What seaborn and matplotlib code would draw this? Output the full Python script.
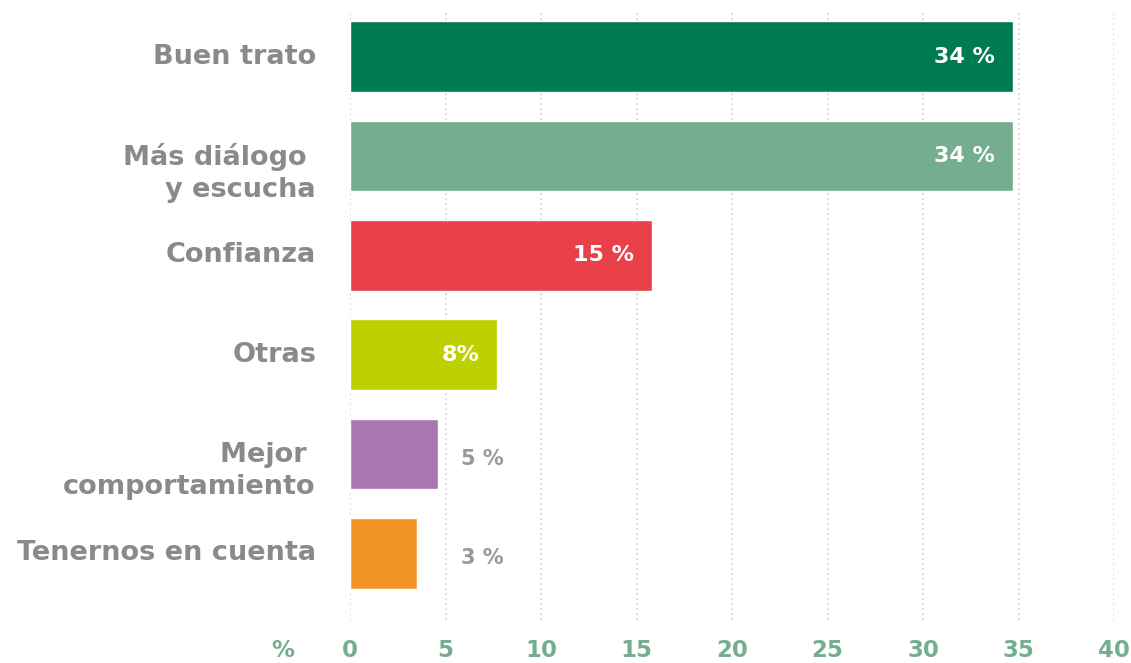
import matplotlib
matplotlib.use("Agg")
import matplotlib.pyplot as plt
import matplotlib.transforms as mtrans
import seaborn as sns
import pandas as pd

categories = ["Buen trato", "Más diálogo \ny escucha", "Confianza", "Otras",
              "Mejor \ncomportamiento", "Tenernos en cuenta"]
values = [34.7, 34.7, 15.8, 7.7, 4.6, 3.5]
value_labels = ["34 %", "34 %", "15 %", "8%", "5 %", "3 %"]
colors = ["#007A53", "#74AD8F", "#E8414A", "#BED000", "#A877B2", "#F39426"]
xticks = [0, 5, 10, 15, 20, 25, 30, 35, 40]

sns.set_theme(style="white")
plt.rcParams['font.family'] = ['DejaVu Sans']

W, H = 1131, 663
fig = plt.figure(figsize=(W / 100, H / 100), dpi=100)
fig.patch.set_facecolor("white")
x0, x40 = 350, 1114
ax = fig.add_axes([x0 / W, 1 - 620 / H, (x40 - x0) / W, 610 / H])

df = pd.DataFrame({"cat": categories, "val": values})
sns.barplot(data=df, y="cat", x="val", hue="cat", palette=colors, legend=False,
            width=0.71, saturation=1, orient="h", ax=ax, zorder=3)

ax.set_xlim(0, 40)
ax.set_ylim(5.67, -0.47)
ax.set_xticks(xticks)
ax.set_xticklabels([str(t) for t in xticks], color="#74AD8F", fontsize=16.5, fontweight="bold")
ax.tick_params(axis="x", pad=14, length=0)
ax.set_yticks([])
ax.set_xlabel("")
ax.set_ylabel("")
for s in ax.spines.values():
    s.set_visible(False)
ax.xaxis.grid(True, linestyle=(0, (1, 2)), color="#cfcfcf", linewidth=1.2, zorder=0)
ax.set_axisbelow(True)

gray = "#8a8a8a"
for i, (cat, v, lab) in enumerate(zip(categories, values, value_labels)):
    multi = "\n" in cat
    tr = mtrans.offset_copy(ax.transData, fig=fig, x=-34, y=(-17 if multi else 0), units="dots")
    ax.text(0, i, cat, transform=tr, ha="right", va="center", fontsize=19.5,
            fontweight="bold", color=gray, linespacing=1.28, multialignment="right")
    if v >= 7:
        tr2 = mtrans.offset_copy(ax.transData, fig=fig, x=-18, y=0, units="dots")
        ax.text(v, i, lab, transform=tr2, ha="right", va="center", fontsize=16,
                fontweight="bold", color="white", zorder=5)
    else:
        ax.text(5.8, i + 0.05, lab, ha="left", va="center", fontsize=15,
                fontweight="bold", color="#999999", zorder=5)

lbl = ax.get_xticklabels()[0]
fig.text(283 / W, 0, "%", ha="center", va="center", fontsize=16.5,
         fontweight="bold", color="#74AD8F")

fig.canvas.draw()
bb = lbl.get_window_extent()
fig.texts[-1].set_position((283 / W, (bb.y0 + bb.y1) / 2 / H))

fig.savefig("out.png", dpi=100, facecolor="white")
